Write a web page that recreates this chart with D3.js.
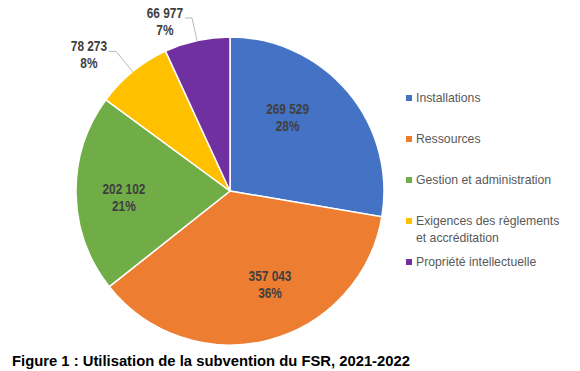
<!DOCTYPE html>
<html lang="fr">
<head>
<meta charset="UTF-8">
<title>Utilisation de la subvention du FSR</title>
<script src="https://d3js.org/d3.v7.min.js"></script>
<style>
  body { margin: 0; background: #fff; }
  text { font-family: Arial, "Liberation Sans", sans-serif; }
</style>
</head>
<body>
<div id="chart"></div>
<script>
// categories and values
const categories = ["Installations", "Ressources", "Gestion et administration",
                    "Exigences des règlements et accréditation", "Propriété intellectuelle"];
const legendLines = [["Installations"], ["Ressources"], ["Gestion et administration"],
                     ["Exigences des règlements", "et accréditation"], ["Propriété intellectuelle"]];
const values = [269529, 357043, 202102, 78273, 66977];
const valueLabels = ["269 529", "357 043", "202 102", "78 273", "66 977"];
const pctLabels = ["28%", "36%", "21%", "8%", "7%"];
const colors = ["#4472C4", "#ED7D31", "#70AD47", "#FFC000", "#7030A0"];

const W = 580, H = 371;
const cx = 230, cy = 191, r = 154;

const svg = d3.select("#chart").append("svg")
    .attr("width", W).attr("height", H);

const pie = d3.pie().sort(null).value(d => d);
const arcs = pie(values);
const arc = d3.arc().innerRadius(0).outerRadius(r);

const g = svg.append("g").attr("transform", `translate(${cx},${cy})`);

g.selectAll("path.slice")
  .data(arcs)
  .join("path")
    .attr("class", "slice")
    .attr("d", arc)
    .attr("fill", (d, i) => colors[i])
    .attr("stroke", "#fff")
    .attr("stroke-width", 1.5);

// narrow-looking bold label text
function label(sel, x, y, str, anchor) {
  const t = sel.append("text").attr("x", x).attr("y", y)
    .attr("text-anchor", anchor || "middle").attr("font-weight", "bold")
    .attr("font-size", 13.8).attr("fill", "#404040").text(str);
  const w = t.node().getComputedTextLength();
  t.attr("textLength", w * 0.86).attr("lengthAdjust", "spacingAndGlyphs");
  return w * 0.86;
}

// label placement: inside for big slices, outside with leader for small ones
const labelShift = [-12, -9, -2, 0, 0];      // degrees
const labelRad = [0.61, 0.655, 0.69, 1.17, 1.15];

function polar(angle, rad) {
  return [Math.sin(angle) * rad, -Math.cos(angle) * rad];
}

arcs.forEach((d, i) => {
  const mid = (d.startAngle + d.endAngle) / 2;
  const a = mid + labelShift[i] * Math.PI / 180;
  const p = polar(a, r * labelRad[i]);
  const lab = g.append("g");
  if (labelRad[i] < 1) {
    label(lab, p[0], p[1] - 3, valueLabels[i]);
    label(lab, p[0], p[1] + 14, pctLabels[i]);
  } else {
    const e = polar(mid, r);
    const hx = p[0] - 7;
    g.append("polyline")
      .attr("points", [[e[0], e[1]], [p[0], p[1]], [hx, p[1]]].map(q => q.join(",")).join(" "))
      .attr("fill", "none").attr("stroke", "#A6A6A6").attr("stroke-width", 0.8);
    const tmp = lab.append("text").attr("font-weight", "bold").attr("font-size", 13.8)
      .text(valueLabels[i]);
    const w = tmp.node().getComputedTextLength() * 0.86;
    tmp.remove();
    const tx = hx - 2 - w / 2;
    label(lab, tx, p[1], valueLabels[i]);
    label(lab, tx, p[1] + 16.5, pctLabels[i]);
  }
});

// legend
const legend = svg.append("g").attr("transform", "translate(406,102)");
const rowY = d3.scalePoint().domain(d3.range(categories.length)).range([0, 164]);
legendLines.forEach((lines, i) => {
  const row = legend.append("g").attr("transform", `translate(0,${rowY(i)})`);
  row.append("rect").attr("x", 0).attr("y", -7).attr("width", 6).attr("height", 6)
    .attr("fill", colors[i]);
  lines.forEach((ln, j) => {
    const t = row.append("text").attr("x", 10).attr("y", j * 17)
      .attr("font-size", 13).attr("fill", "#595959").text(ln);
    const w = t.node().getComputedTextLength();
    t.attr("textLength", w * 0.94).attr("lengthAdjust", "spacingAndGlyphs");
  });
});

// caption
svg.append("text").attr("x", 12).attr("y", 366)
  .attr("font-size", 14.8).attr("font-weight", "bold").attr("fill", "#000")
  .text("Figure 1 : Utilisation de la subvention du FSR, 2021-2022");
</script>
</body>
</html>
